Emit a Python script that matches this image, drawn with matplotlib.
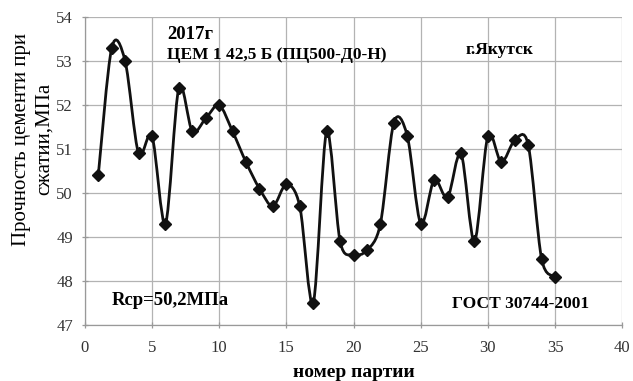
import numpy as np
import matplotlib
matplotlib.use("Agg")
import matplotlib.pyplot as plt
from matplotlib.path import Path
from matplotlib.patches import PathPatch

batch = list(range(1, 36))
strength = [50.4, 53.3, 53.0, 50.9, 51.3, 49.3, 52.4, 51.4, 51.7, 52.0,
            51.4, 50.7, 50.1, 49.7, 50.2, 49.7, 47.5, 51.4, 48.9, 48.6,
            48.7, 49.3, 51.6, 51.3, 49.3, 50.3, 49.9, 50.9, 48.9, 51.3,
            50.7, 51.2, 51.1, 48.5, 48.1]
xticks = [0, 5, 10, 15, 20, 25, 30, 35, 40]
yticks = [47, 48, 49, 50, 51, 52, 53, 54]

plt.rcParams['font.family'] = ['Liberation Serif', 'DejaVu Serif']

fig = plt.figure(figsize=(6.33, 3.81), dpi=100)
ax = fig.add_axes([0.134, 0.147, 0.849, 0.808])

# smooth (Excel-like) bezier line through the points
x = np.array(batch, dtype=float)
y = np.array(strength, dtype=float)
verts = [(x[0], y[0])]
codes = [Path.MOVETO]
n = len(x)
for i in range(n - 1):
    p0 = np.array([x[i - 1], y[i - 1]]) if i > 0 else np.array([x[i], y[i]])
    p1 = np.array([x[i], y[i]])
    p2 = np.array([x[i + 1], y[i + 1]])
    p3 = np.array([x[i + 2], y[i + 2]]) if i + 2 < n else p2
    c1 = p1 + (p2 - p0) / 6.5
    c2 = p2 - (p3 - p1) / 6.5
    verts += [tuple(c1), tuple(c2), tuple(p2)]
    codes += [Path.CURVE4, Path.CURVE4, Path.CURVE4]
ax.add_patch(PathPatch(Path(verts, codes), facecolor='none', edgecolor='#111111',
                       lw=2.0, zorder=3))
ax.plot(batch, strength, linestyle='none', marker='D', markersize=6,
        color='#111111', zorder=4)

ax.set_xlim(0, 40)
ax.set_ylim(47, 54)
ax.set_xticks(xticks)
ax.set_yticks(yticks)
ax.grid(True, color='#b3b3b3', lw=0.9)
ax.set_axisbelow(True)
for k in ['top', 'right']:
    ax.spines[k].set_visible(False)
for k in ['left', 'bottom']:
    ax.spines[k].set_color('#999999')
    ax.spines[k].set_linewidth(0.9)
ax.tick_params(length=5, direction='inout', width=0.9, color='#999999',
               labelsize=12, labelcolor='#333333')
ax.tick_params(axis='x', pad=8)
ax.tick_params(axis='y', pad=6)

ax.set_xlabel('номер партии', fontsize=14, fontweight='bold', labelpad=6)
fig.text(33 / 633, 1 - 139 / 381, 'Прочность цементи при\nсжатии,МПа',
         fontsize=15, rotation=90, ha='center', va='center',
         multialignment='center', linespacing=1.25)

ax.text(6.1, 53.6, '2017г', fontsize=13.5, fontweight='bold', va='center')
ax.text(6.1, 53.13, 'ЦЕМ 1 42,5 Б (ПЦ500-Д0-Н)', fontsize=12.5,
        fontweight='bold', va='center')
ax.text(30.9, 53.25, 'г.Якутск', fontsize=12.5, fontweight='bold',
        va='center', ha='center')
ax.text(2.0, 47.55, 'Rcp=50,2МПа', fontsize=13.5, fontweight='bold', va='center')
ax.text(27.3, 47.47, 'ГОСТ 30744-2001', fontsize=12.5, fontweight='bold',
        va='center')

fig.savefig('out.png', dpi=100, facecolor='white')
